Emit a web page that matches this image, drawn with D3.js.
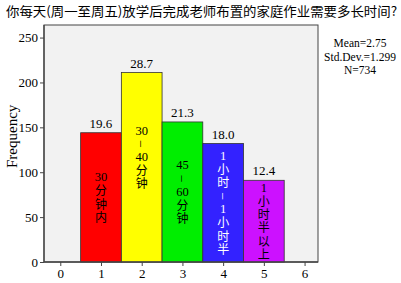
<!DOCTYPE html>
<html><head><meta charset="utf-8">
<script src="https://cdn.jsdelivr.net/npm/d3@7"></script>
<style>body{margin:0;background:#fff}svg{display:block}</style>
</head><body><svg id="c" width="401" height="283"></svg>
<script>
const title = "你每天(周一至周五)放学后完成老师布置的家庭作业需要多长时间?";
const categories = [1, 2, 3, 4, 5];
const frequencies = [144, 211, 156, 132, 91];
const percents = ["19.6", "28.7", "21.3", "18.0", "12.4"];
// label runs: "h" = horizontal number, "d" = rotated dash, "v" = vertical CJK run
const barLabels = [
  [["h", "30"], ["v", "分钟内"]],
  [["h", "30"], ["d", "–"], ["h", "40"], ["v", "分钟"]],
  [["h", "45"], ["d", "–"], ["h", "60"], ["v", "分钟"]],
  [["h", "1"], ["v", "小时"], ["d", "–"], ["h", "1"], ["v", "小时半"]],
  [["h", "1"], ["v", "小时半以上"]]
];
const barColors = ["#ff0000", "#ffff00", "#00ee00", "#3322ff", "#cc11ff"];
const labelColors = ["#000", "#000", "#000", "#fff", "#000"];
const xTicks = [0, 1, 2, 3, 4, 5, 6];
const yTicks = [0, 50, 100, 150, 200, 250];
const stats = ["Mean=2.75", "Std.Dev.=1.299", "N=734"];

const svg = d3.select("#c");
const L = 44, R = 318, T = 25, B = 262;
const x = d3.scaleLinear().domain([-0.4, 6.33]).range([L, R]);
const y = d3.scaleLinear().domain([0, 264]).range([B, T]);
const serif = "'Liberation Serif','Times New Roman',serif";
const cjk = "'Noto Sans CJK SC',sans-serif";

svg.append("rect").attr("x", L).attr("y", T).attr("width", R - L).attr("height", B - T)
  .attr("fill", "#f2f2f2").attr("stroke", "#444").attr("stroke-width", 1);

const g = svg.append("g");
const lh = 13.3;
categories.forEach((c, i) => {
  const x0 = x(c - 0.5), x1 = x(c + 0.5);
  g.append("rect").attr("x", x0).attr("y", y(frequencies[i]))
    .attr("width", x1 - x0).attr("height", y(0) - y(frequencies[i]))
    .attr("fill", barColors[i]).attr("stroke", "#333").attr("stroke-width", 0.8);
  g.append("text").attr("x", x(c)).attr("y", y(frequencies[i]) - 5)
    .attr("text-anchor", "middle").attr("font-family", serif).attr("font-size", 13)
    .attr("fill", "#000").text(percents[i]);
  const runs = barLabels[i];
  const nSlots = d3.sum(runs, r => r[0] === "v" ? r[1].length : 1);
  const mid = (y(frequencies[i]) + y(0)) / 2 - (i === 1 ? 10 : 0);
  let top = mid - nSlots * lh / 2;
  const cx = x(c);
  runs.forEach(([kind, s]) => {
    if (kind === "h") {
      g.append("text").attr("x", cx).attr("y", top + 10.6)
        .attr("text-anchor", "middle").attr("font-family", serif).attr("font-size", 12.5)
        .attr("fill", labelColors[i]).text(s);
      top += lh;
    } else if (kind === "d") {
      g.append("text").attr("transform", `translate(${cx},${top + lh / 2}) rotate(90)`)
        .attr("text-anchor", "middle").attr("dy", "0.27em")
        .attr("font-family", serif).attr("font-size", 12.5)
        .attr("fill", labelColors[i]).text(s);
      top += lh;
    } else {
      g.append("text").attr("x", cx).attr("y", top + 0.6)
        .style("writing-mode", "vertical-rl")
        .attr("font-family", cjk).attr("font-size", 12)
        .attr("letter-spacing", lh - 12)
        .attr("fill", labelColors[i]).text(s);
      top += lh * s.length;
    }
  });
});

// axes
const xa = svg.append("g").attr("transform", `translate(0,${B})`)
  .call(d3.axisBottom(x).tickValues(xTicks).tickSize(4).tickPadding(3).tickFormat(d3.format("d")));
xa.select(".domain").remove();
xa.selectAll("line").attr("stroke", "#444");
xa.selectAll("text").attr("font-family", serif).attr("font-size", 13).attr("fill", "#000");

const ya = svg.append("g").attr("transform", `translate(${L},0)`)
  .call(d3.axisLeft(y).tickValues(yTicks).tickSize(4).tickPadding(2));
ya.select(".domain").remove();
ya.selectAll("line").attr("stroke", "#444");
ya.selectAll("text").attr("font-family", serif).attr("font-size", 13).attr("fill", "#000");

svg.append("line").attr("x1", L).attr("x2", L).attr("y1", T).attr("y2", B).attr("stroke", "#444").attr("stroke-width", 1.3);
svg.append("line").attr("x1", L).attr("x2", R).attr("y1", B).attr("y2", B).attr("stroke", "#444").attr("stroke-width", 1.3);

svg.append("text").attr("transform", `translate(17,${y(140)}) rotate(-90)`)
  .attr("text-anchor", "middle").attr("font-family", serif).attr("font-size", 15)
  .attr("fill", "#000").text("Frequency");

svg.append("text").attr("x", 6).attr("y", 16).attr("font-family", cjk).attr("font-size", 13)
  .attr("textLength", 391).attr("lengthAdjust", "spacingAndGlyphs")
  .attr("fill", "#000").text(title);

stats.forEach((s, i) => {
  svg.append("text").attr("x", 360).attr("y", 47 + i * 13.5).attr("text-anchor", "middle")
    .attr("font-family", serif).attr("font-size", 11.5).attr("fill", "#000").text(s);
});
</script></body></html>
